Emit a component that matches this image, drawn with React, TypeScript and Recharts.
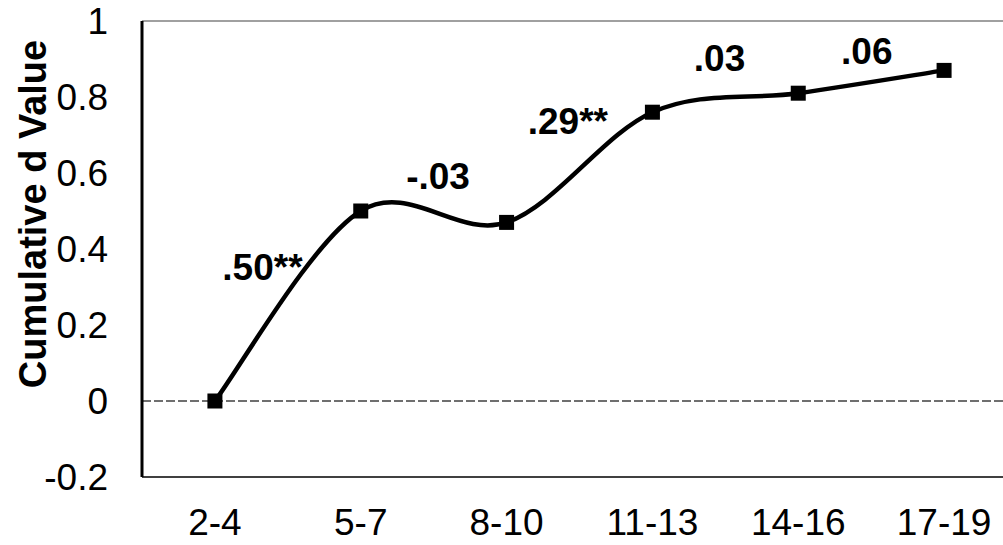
import React from 'react';
import { LineChart, Line, XAxis, YAxis, ReferenceLine, ReferenceDot, Label } from 'recharts';

const categories = ['2-4', '5-7', '8-10', '11-13', '14-16', '17-19'];
const cumulativeD = [0, 0.5, 0.47, 0.76, 0.81, 0.87];
const yTicks = [-0.2, 0, 0.2, 0.4, 0.6, 0.8, 1];
const stepLabels = ['.50**', '-.03', '.29**', '.03', '.06'];
const stepLabelX = [0.326, 1.53, 2.42, 3.46, 4.47];
const stepLabelY = [0.354, 0.593, 0.738, 0.904, 0.922];

const data = categories.map((c, i) => ({ x: i, y: cumulativeD[i] }));

// Excel-like smoothed line (Catmull-Rom style Bezier)
function excelCurve(context: any) {
  let pts: number[][] = [];
  return {
    areaStart() {},
    areaEnd() {},
    lineStart() {
      pts = [];
    },
    point(x: number, y: number) {
      pts.push([+x, +y]);
    },
    lineEnd() {
      if (!pts.length) return;
      context.moveTo(pts[0][0], pts[0][1]);
      for (let i = 0; i < pts.length - 1; i++) {
        const p0 = pts[i - 1] || pts[i];
        const p1 = pts[i];
        const p2 = pts[i + 1];
        const p3 = pts[i + 2] || p2;
        context.bezierCurveTo(
          p1[0] + (p2[0] - p0[0]) / 6,
          p1[1] + (p2[1] - p0[1]) / 6,
          p2[0] - (p3[0] - p1[0]) / 6,
          p2[1] - (p3[1] - p1[1]) / 6,
          p2[0],
          p2[1]
        );
      }
    },
  };
}

const FONT = '"Liberation Sans", Arial, sans-serif';

const SquareDot = (props: any) => {
  const { cx, cy, index } = props;
  if (cx == null || cy == null) return null;
  return <rect key={`dot-${index}`} x={cx - 7.5} y={cy - 7.5} width={15} height={15} fill="#000" />;
};

const YLabel = (props: any) => {
  const vb = props.viewBox || { x: 0 };
  const cx = vb.x + 46;
  const cy = 214;
  return (
    <text
      x={cx}
      y={cy}
      transform={`rotate(-90 ${cx} ${cy})`}
      textAnchor="middle"
      fontFamily={FONT}
      fontWeight="bold"
      fontSize={38}
      fill="#000"
    >
      Cumulative d Value
    </text>
  );
};

export default function App() {
  return (
    <div
      style={{
        position: 'fixed',
        left: 0,
        top: 0,
        width: 1003,
        height: 545,
        overflow: 'hidden',
        background: '#fff',
      }}
    >
      <LineChart
        width={1030}
        height={545}
        data={data}
        margin={{ top: 21, right: 13, bottom: 0, left: 0 }}
        style={{ fontFamily: FONT }}
      >
        <XAxis
          dataKey="x"
          type="number"
          domain={[-0.5, 5.5]}
          ticks={[0, 1, 2, 3, 4, 5]}
          tickFormatter={(v: number) => categories[v]}
          height={68}
          tickLine={false}
          tickSize={0}
          tickMargin={32}
          axisLine={{ stroke: '#404040', strokeWidth: 2 }}
          tick={{ fill: '#000', fontSize: 37, fontFamily: FONT }}
          interval={0}
        />
        <YAxis
          type="number"
          domain={[-0.2, 1]}
          ticks={yTicks}
          tickFormatter={(v: number) => String(v)}
          width={142}
          tickLine={false}
          tickSize={0}
          tickMargin={34}
          axisLine={{ stroke: '#000', strokeWidth: 3 }}
          tick={{ fill: '#000', fontSize: 37, fontFamily: FONT }}
          interval={0}
        >
          <Label content={<YLabel />} />
        </YAxis>
        <ReferenceLine y={1} stroke="#808080" strokeWidth={1.5} />
        <ReferenceLine y={0} stroke="#404040" strokeWidth={1.5} strokeDasharray="9 3" />
        <Line
          dataKey="y"
          type={excelCurve as any}
          stroke="#000"
          strokeWidth={4.5}
          dot={<SquareDot />}
          activeDot={false}
          isAnimationActive={false}
        />
        {stepLabels.map((t, i) => (
          <ReferenceDot
            key={t + i}
            x={stepLabelX[i]}
            y={stepLabelY[i]}
            r={0}
            fill="none"
            stroke="none"
            label={{
              value: t,
              position: 'center',
              fontSize: 37,
              fontWeight: 'bold',
              fill: '#000',
              fontFamily: FONT,
            }}
          />
        ))}
      </LineChart>
    </div>
  );
}
